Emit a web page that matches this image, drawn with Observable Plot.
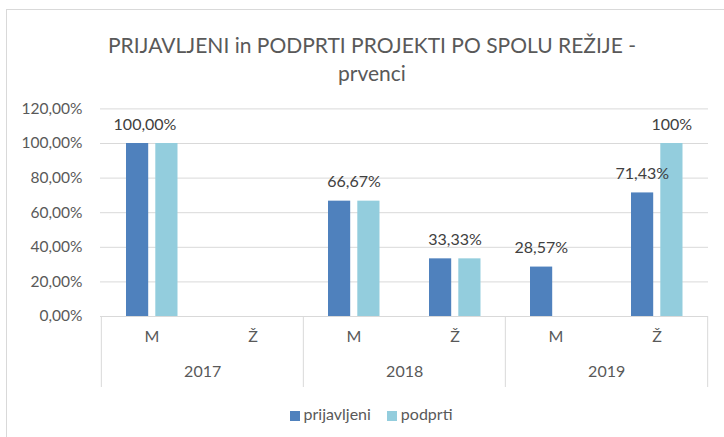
<!DOCTYPE html>
<html>
<head>
<meta charset="utf-8">
<script src="https://cdn.jsdelivr.net/npm/d3@7"></script>
<script src="https://cdn.jsdelivr.net/npm/@observablehq/plot@0.6"></script>
<style>
html, body { margin: 0; padding: 0; background: #fff; overflow: hidden; width: 724px; height: 437px; }
#wrap { position: relative; width: 724px; height: 437px; font-family: Lato, "Liberation Sans", sans-serif; }
#border { position: absolute; left: 6px; top: 9px; width: 900px; height: 700px; border: 1px solid #d9d9d9; box-sizing: border-box; }
#title { position: absolute; left: 0; top: 31px; width: 744px; text-align: center; font-size: 21px; line-height: 28px; color: #595959; }
#chart { position: absolute; left: 0; top: 95px; }
#legend { position: absolute; left: 0; top: 404px; width: 742px; text-align: center; font-size: 16px; line-height: 20px; color: #595959; }
.sw { display: inline-block; width: 10px; height: 10px; margin-right: 4px; vertical-align: -1px; }
.item { display: inline-block; margin: 0 8px; }
</style>
</head>
<body>
<div id="wrap">
  <div id="border"></div>
  <div id="title">PRIJAVLJENI in PODPRTI PROJEKTI PO SPOLU REŽIJE -<br>prvenci</div>
  <div id="chart"></div>
  <div id="legend"></div>
</div>
<script>
// ---- data ----
const years = ["2017", "2018", "2019"];
const genders = ["M", "Ž"];
const seriesNames = ["prijavljeni", "podprti"];
const seriesColors = ["#4F81BD", "#93CDDD"];
const prijavljeni = [100, 0, 66.67, 33.33, 28.57, 71.43];
const podprti = [100, 0, 66.67, 33.33, 0, 100];
const yTicks = [0, 20, 40, 60, 80, 100, 120];
// data labels as shown in the chart
const labelCats = ["2017|M", "2018|M", "2018|Ž", "2019|M", "2019|Ž", "2019|Ž"];
const labelSeries = ["both", "both", "both", "prijavljeni", "prijavljeni", "podprti"];
const labelValues = [100, 66.67, 33.33, 28.57, 71.43, 100];
const labelTexts = ["100,00%", "66,67%", "33,33%", "28,57%", "71,43%", "100%"];

// ---- build ----
const cats = years.flatMap(y => genders.map(g => y + "|" + g));
const rows = cats.map((c, i) => ({
  cat: c, year: c.split("|")[0], gender: c.split("|")[1],
  prijavljeni: prijavljeni[i], podprti: podprti[i]
}));
const labels = labelCats.map((c, i) => ({cat: c, series: labelSeries[i], value: labelValues[i], text: labelTexts[i]}));

const locale = d3.formatLocale({decimal: ",", thousands: ".", grouping: [3], currency: ["", "€"]});
const fmt = v => locale.format(".2f")(v) + "%";

const W = 724, H = 300, ML = 100, MR = 16, MT = 13.4, MB = 79;
const band = (W - ML - MR) / cats.length;
const FONT = "Lato, 'Liberation Sans', sans-serif";

const chart = Plot.plot({
  width: W, height: H,
  marginLeft: ML, marginRight: MR, marginTop: MT, marginBottom: MB,
  style: {fontFamily: FONT, background: "transparent", overflow: "visible"},
  x: {domain: cats, padding: 0, axis: null},
  y: {domain: [0, 120], axis: null},
  marks: [
    Plot.ruleY(yTicks, {stroke: "#d9d9d9", strokeWidth: 1}),
    Plot.axisY({ticks: yTicks, tickFormat: fmt, tickSize: 0, tickPadding: 18, fontSize: 15.5, color: "#595959", label: null}),
    Plot.barY(rows, {x: "cat", y: "prijavljeni", fill: seriesColors[0], insetLeft: 25, insetRight: 53.8}),
    Plot.barY(rows, {x: "cat", y: "podprti", fill: seriesColors[1], insetLeft: 54.3, insetRight: 24.5}),
    // category axis box
    Plot.ruleX(rows.filter(d => d.gender === "M"), {x: "cat", dx: -band / 2, y1: 0, y2: 0, insetBottom: -71, stroke: "#d9d9d9"}),
    Plot.ruleX(rows.slice(-1), {x: "cat", dx: band / 2, y1: 0, y2: 0, insetBottom: -71, stroke: "#d9d9d9"}),
    Plot.text(rows, {x: "cat", text: "gender", frameAnchor: "bottom", dy: 25, fontSize: 16, fill: "#595959"}),
    Plot.text(rows.filter(d => d.gender === "M"), {x: "cat", text: "year", frameAnchor: "bottom", dy: 60, dx: band / 2, fontSize: 16, fill: "#595959"}),
    // data labels
    Plot.text(labels.filter(d => d.series === "both" && d.cat === "2017|M"), {x: "cat", y: "value", text: "text", dy: -19, dx: -7, fontSize: 16, fill: "#404040"}),
    Plot.text(labels.filter(d => d.series === "both" && d.cat !== "2017|M"), {x: "cat", y: "value", text: "text", dy: -19, fontSize: 16, fill: "#404040"}),
    Plot.text(labels.filter(d => d.series === "prijavljeni"), {x: "cat", y: "value", text: "text", dy: -19, dx: -14.7, fontSize: 16, fill: "#404040"}),
    Plot.text(labels.filter(d => d.series === "podprti"), {x: "cat", y: "value", text: "text", dy: -19, dx: 14.8, fontSize: 16, fill: "#404040"})
  ]
});
document.getElementById("chart").appendChild(chart);

const legend = document.getElementById("legend");
seriesNames.forEach((name, i) => {
  const item = document.createElement("span");
  item.className = "item";
  const sw = document.createElement("span");
  sw.className = "sw";
  sw.style.background = seriesColors[i];
  item.appendChild(sw);
  item.appendChild(document.createTextNode(name));
  legend.appendChild(item);
});
</script>
</body>
</html>
